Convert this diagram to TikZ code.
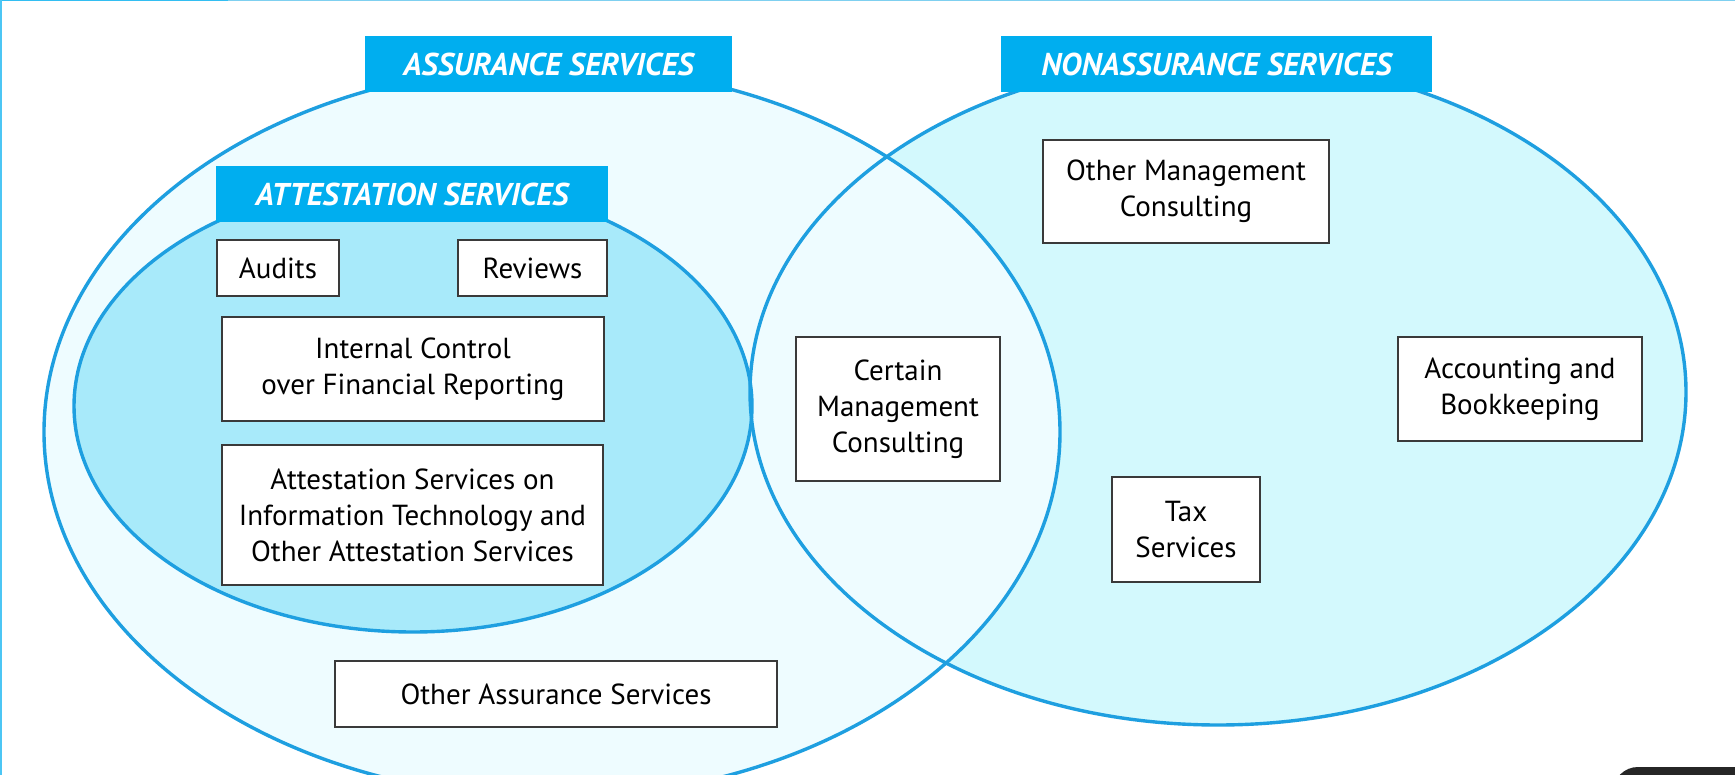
\documentclass[tikz,border=0pt]{standalone}
\usepackage{fontspec}
\setmainfont{PT Sans}
\definecolor{svcblue}{HTML}{00AEEF}
\definecolor{svcline}{HTML}{1E9FE0}
\definecolor{svcpale}{HTML}{EEFCFF}
\definecolor{svcaqua}{HTML}{D3F9FD}
\definecolor{svcmid}{HTML}{A8EAFA}
\definecolor{svcedge}{HTML}{3A3A3A}
\definecolor{svcrim}{HTML}{7FD0F0}

\begin{document}
\begin{tikzpicture}[
    x=1pt, y=-1pt,
    box/.style={rectangle, draw=svcedge, fill=white, line width=1.5pt, align=center, inner sep=0pt, font=\fontsize{29}{36}\selectfont},
    banner/.style={rectangle, fill=svcblue, inner sep=0pt, minimum height=56pt, text=white, font=\fontsize{31.5}{36}\selectfont\bfseries\itshape},
    ring/.style={draw=svcline, line width=3.4pt}
]
\useasboundingbox (0,0) rectangle (1735,775);
\clip (0,0) rectangle (1735,775);
\fill[white] (0,0) rectangle (1735,775);

% Sets
\fill[svcaqua] (1218,392) ellipse [x radius=468, y radius=333];
\fill[svcpale] (552,432) ellipse [x radius=508, y radius=366];
\fill[svcmid] (413,406) ellipse [x radius=339, y radius=226];
\draw[ring] (1218,392) ellipse [x radius=468, y radius=333];
\draw[ring] (552,432) ellipse [x radius=508, y radius=366];
\draw[ring] (413,406) ellipse [x radius=339, y radius=226];

% Headers
\node[banner, minimum width=367pt] (assure) at (548.5,64) {ASSURANCE SERVICES};
\node[banner, minimum width=431pt] (nonassure) at (1216.5,64) {NONASSURANCE SERVICES};
\node[banner, minimum width=392pt] (attest) at (412,194) {ATTESTATION SERVICES};

% Nodes
\node[box, minimum width=122pt, minimum height=56pt] (audits) at (278,268) {Audits};
\node[box, minimum width=149pt, minimum height=56pt] (reviews) at (532.5,268) {Reviews};
\node[box, minimum width=382pt, minimum height=104pt] (icfr) at (413,369) {Internal Control\\over Financial Reporting};
\node[box, minimum width=381pt, minimum height=140pt] (itattest) at (412.5,515) {Attestation Services on\\Information Technology and\\Other Attestation Services};
\node[box, minimum width=442pt, minimum height=66pt] (otherassure) at (556,694) {Other Assurance Services};
\node[box, minimum width=204pt, minimum height=144pt] (certain) at (898,409) {Certain\\Management\\Consulting};
\node[box, minimum width=286pt, minimum height=103pt] (othermgmt) at (1186,191.5) {Other Management\\Consulting};
\node[box, minimum width=244pt, minimum height=104pt] (acctg) at (1520,389) {Accounting and\\Bookkeeping};
\node[box, minimum width=148pt, minimum height=105pt] (tax) at (1186,529.5) {Tax\\Services};

% Frame
\draw[svcrim, line width=3pt] (0,0) -- (1735,0);
\draw[svcblue!80, line width=3pt] (0,0) -- (228,0);
\draw[svcblue!70, line width=3pt] (0,0) -- (0,775);
\fill[black!85, rounded corners=25pt] (1613,767) rectangle (1800,840);
\end{tikzpicture}
\end{document}
